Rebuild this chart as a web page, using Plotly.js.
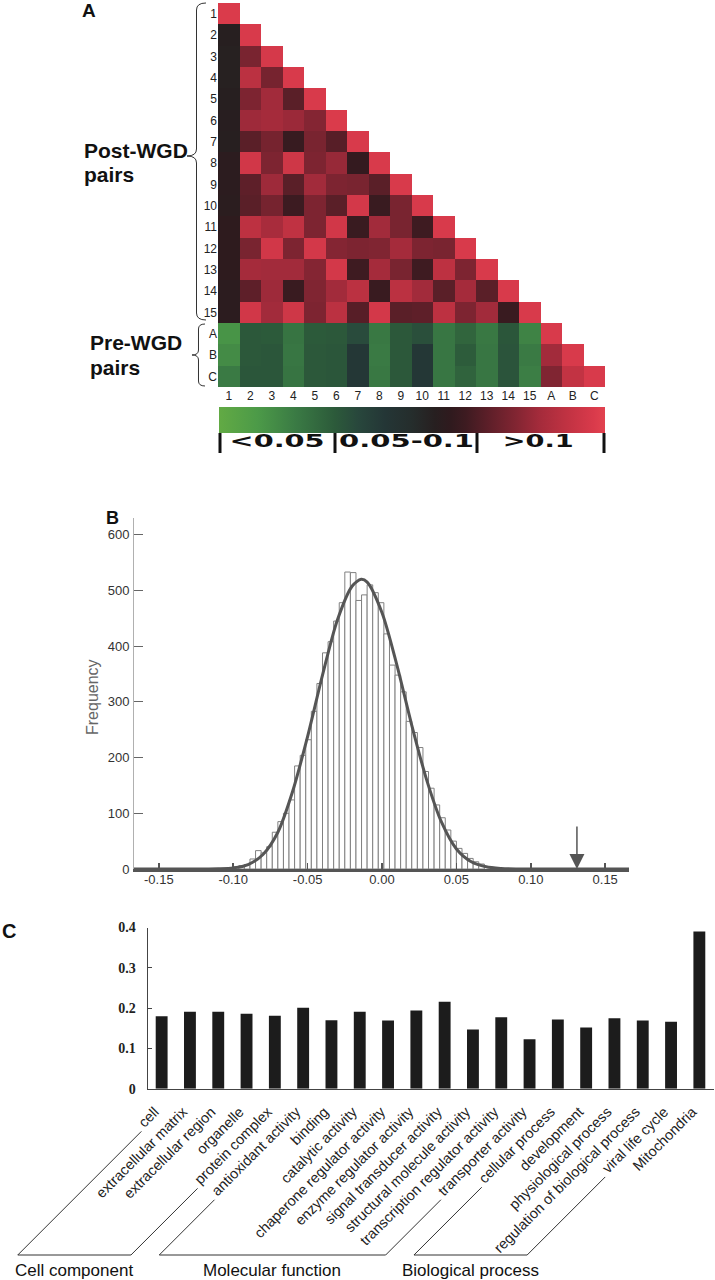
<!DOCTYPE html>
<html>
<head>
<meta charset="utf-8">
<script src="https://cdn.plot.ly/plotly-3.0.1.min.js"></script>
<style>
  html, body { margin: 0; padding: 0; background: #ffffff; }
  #fig { width: 715px; height: 1280px; }
</style>
</head>
<body>
<div id="fig"></div>
<script>
// ---------- Panel A: pairwise similarity of duplicate pairs ----------
const pairLabels = ['1','2','3','4','5','6','7','8','9','10','11','12','13','14','15','A','B','C'];
const heatRows = [
  [0.146],
  [0.084, 0.145],
  [0.083, 0.113, 0.144],
  [0.083, 0.133, 0.112, 0.145],
  [0.084, 0.114, 0.124, 0.104, 0.145],
  [0.085, 0.123, 0.125, 0.122, 0.116, 0.146],
  [0.084, 0.104, 0.112, 0.093, 0.113, 0.103, 0.145],
  [0.088, 0.142, 0.114, 0.141, 0.114, 0.121, 0.092, 0.145],
  [0.088, 0.105, 0.123, 0.104, 0.124, 0.114, 0.113, 0.104, 0.145],
  [0.087, 0.104, 0.112, 0.095, 0.114, 0.104, 0.143, 0.094, 0.113, 0.145],
  [0.089, 0.134, 0.126, 0.135, 0.114, 0.142, 0.094, 0.124, 0.113, 0.096, 0.145],
  [0.089, 0.113, 0.142, 0.114, 0.143, 0.116, 0.114, 0.115, 0.125, 0.114, 0.113, 0.145],
  [0.089, 0.125, 0.124, 0.124, 0.116, 0.143, 0.096, 0.125, 0.113, 0.096, 0.134, 0.114, 0.145],
  [0.088, 0.105, 0.123, 0.094, 0.115, 0.124, 0.133, 0.094, 0.133, 0.124, 0.104, 0.125, 0.104, 0.145],
  [0.088, 0.142, 0.124, 0.141, 0.114, 0.133, 0.103, 0.143, 0.104, 0.105, 0.134, 0.114, 0.124, 0.094, 0.145],
  [0.018, 0.046, 0.045, 0.033, 0.045, 0.046, 0.052, 0.031, 0.046, 0.050, 0.032, 0.040, 0.031, 0.047, 0.026, 0.145],
  [0.022, 0.046, 0.047, 0.032, 0.046, 0.047, 0.064, 0.030, 0.046, 0.064, 0.032, 0.044, 0.032, 0.048, 0.030, 0.124, 0.145],
  [0.030, 0.047, 0.047, 0.033, 0.046, 0.047, 0.064, 0.031, 0.046, 0.064, 0.032, 0.041, 0.032, 0.048, 0.028, 0.115, 0.136, 0.145]
];

// ---------- Panel B: null distribution ----------
const binCenters = [
  -0.09813, -0.09438, -0.09063, -0.08688, -0.08313, -0.07938, -0.07563, -0.07188, -0.06813,
  -0.06438, -0.06063, -0.05688, -0.05313, -0.04938, -0.04563, -0.04188, -0.03813, -0.03438,
  -0.03063, -0.02688, -0.02313, -0.01938, -0.01563, -0.01188, -0.00813, -0.00438, -0.00063,
   0.00313,  0.00688,  0.01063,  0.01438,  0.01813,  0.02188,  0.02563,  0.02938,  0.03313,
   0.03688,  0.04063,  0.04438,  0.04813,  0.05188,  0.05563,  0.05938,  0.06313,  0.06688
];
const binCounts = [
    4,   6,   8,  18,  33,  29,  40,  66,  85,
  100, 124, 185, 204, 232, 283, 333, 388, 408,
  445, 478, 533, 532, 482, 492, 510, 496, 478,
  422, 366, 348, 318, 265, 245, 218, 175, 145,
  115,  92,  70,  50,  37,  28,  19,  13,   9
];
const binWidth = 0.00375;
const fitX = [-0.1667, -0.13, -0.11, -0.10, -0.09, -0.08, -0.07, -0.06, -0.05, -0.04, -0.03, -0.02, -0.014,
              -0.01, 0.00, 0.01, 0.02, 0.03, 0.04, 0.05, 0.06, 0.07, 0.08, 0.09, 0.11, 0.1667];
const fitY = [0, 0, 0.5, 2, 8, 26, 66, 140, 238, 348, 447, 508, 520,
              515, 460, 366, 258, 160, 84, 36, 13, 4, 1, 0, 0, 0];
const observedValue = 0.131;
const histTickVals = [-0.15, -0.10, -0.05, 0.00, 0.05, 0.10, 0.15];
const histTickText = ['-0.15', '-0.10', '-0.05', '0.00', '0.05', '0.10', '0.15'];
const freqTickVals = [0, 100, 200, 300, 400, 500, 600];

// ---------- Panel C: GO categories ----------
const goTerms = [
  'cell', 'extracellular matrix', 'extracellular region', 'organelle', 'protein complex',
  'antioxidant activity', 'binding', 'catalytic activity', 'chaperone regulator activity',
  'enzyme regulator activity', 'signal transducer activity', 'structural molecule activity',
  'transcription regulator activity', 'transporter activity', 'cellular process', 'development',
  'physiological process', 'regulation of biological process', 'viral life cycle', 'Mitochondria'
];
const goFractions = [0.180, 0.191, 0.191, 0.186, 0.181, 0.201, 0.170, 0.191, 0.169, 0.194,
                     0.216, 0.147, 0.177, 0.123, 0.172, 0.152, 0.175, 0.169, 0.166, 0.390];
const goGroups = [
  { name: 'Cell component', first: 0, last: 4 },
  { name: 'Molecular function', first: 5, last: 13 },
  { name: 'Biological process', first: 14, last: 18 }
];
const goTickVals = [0, 0.1, 0.2, 0.3, 0.4];
const goTickText = ['0', '0.1', '0.2', '0.3', '0.4'];

// ---------- helpers: pixel -> paper ----------
const W = 715, H = 1280;
const px = v => v / W;
const py = v => 1 - v / H;

const heatZ = heatRows.map(r => pairLabels.map((_, j) => (j < r.length ? r[j] : null)));

const heatScale = [
  [0.00, '#62aa44'], [0.10, '#4c9a48'], [0.20, '#3a7a44'], [0.30, '#2c5a3a'],
  [0.36, '#28473c'], [0.43, '#243636'], [0.50, '#252d2c'], [0.56, '#271f20'],
  [0.60, '#2f1a1e'], [0.64, '#3e1b21'], [0.70, '#5e1f29'], [0.77, '#822532'],
  [0.83, '#a42b3b'], [0.90, '#c03242'], [0.97, '#d93a4b'], [1.00, '#e2424f']
];

const data = [
  {
    type: 'heatmap', x: pairLabels, y: pairLabels, z: heatZ,
    xaxis: 'x', yaxis: 'y', zmin: 0, zmax: 0.15, colorscale: heatScale,
    hoverinfo: 'skip',
    colorbar: {
      orientation: 'h', x: px(219), xanchor: 'left', y: py(407), yanchor: 'top',
      len: 386, lenmode: 'pixels', thickness: 26, thicknessmode: 'pixels',
      outlinewidth: 0, ticks: '', showticklabels: false, xpad: 0, ypad: 0
    }
  },
  {
    type: 'bar', x: binCenters, y: binCounts, width: binWidth,
    xaxis: 'x2', yaxis: 'y2',
    marker: { color: '#ffffff', line: { color: '#808080', width: 1 } },
    hoverinfo: 'skip'
  },
  {
    type: 'scatter', mode: 'lines', x: fitX, y: fitY, xaxis: 'x2', yaxis: 'y2',
    line: { color: '#555555', width: 3, shape: 'spline', smoothing: 0.8 },
    hoverinfo: 'skip'
  },
  {
    type: 'bar', x: goTerms, y: goFractions, width: 0.42,
    xaxis: 'x3', yaxis: 'y3',
    marker: { color: '#1c1c1c' }, hoverinfo: 'skip'
  }
];

function brace(xr, xt, y1, ym, y2, r) {
  const xm = (xr + xt) / 2;
  const P = (x, y) => px(x).toFixed(5) + ',' + py(y).toFixed(5);
  return 'M' + P(xr, y1) + ' Q' + P(xm, y1) + ' ' + P(xm, y1 + r) +
         ' L' + P(xm, ym - r) + ' Q' + P(xm, ym) + ' ' + P(xt, ym) +
         ' Q' + P(xm, ym) + ' ' + P(xm, ym + r) +
         ' L' + P(xm, y2 - r) + ' Q' + P(xm, y2) + ' ' + P(xr, y2);
}

const sepShapes = [220, 335, 477, 604].map(x => ({
  type: 'line', xref: 'paper', yref: 'paper',
  x0: px(x), x1: px(x), y0: py(433), y1: py(453),
  line: { color: '#111111', width: 3 }
}));

const shapes = [
  { type: 'path', xref: 'paper', yref: 'paper', path: brace(206, 187, 3, 156, 320, 7),
    line: { color: '#333333', width: 1 } },
  { type: 'path', xref: 'paper', yref: 'paper', path: brace(205, 192, 324, 355, 386, 5),
    line: { color: '#333333', width: 1 } }
].concat(sepShapes);

const paperNote = (text, x, y, font, extra) => Object.assign({
  xref: 'paper', yref: 'paper', x: px(x), y: py(y), text: text, showarrow: false,
  xanchor: 'center', yanchor: 'middle', font: font
}, extra || {});

const boldSans = (size) => ({ family: 'Liberation Sans, Arial, sans-serif', size: size, color: '#111111', weight: 'bold' });
const legendFont = { family: 'DejaVu Sans, sans-serif', size: 17, color: '#111111', weight: 'bold' };

const annotations = [
  paperNote('A', 89, 11, boldSans(19)),
  paperNote('B', 113, 518, boldSans(18)),
  paperNote('C', 9, 931, boldSans(20)),
  paperNote('Post-WGD', 82, 150, boldSans(21), { xanchor: 'left' }),
  paperNote('pairs', 82, 174, boldSans(21), { xanchor: 'left' }),
  paperNote('Pre-WGD', 88, 342, boldSans(21), { xanchor: 'left' }),
  paperNote('pairs', 88, 367, boldSans(21), { xanchor: 'left' }),
  paperNote('&lt;0.05', 277, 441, legendFont),
  paperNote('0.05-0.1', 406, 441, legendFont),
  paperNote('&gt;0.1', 538, 441, legendFont),
  paperNote('Frequency', 92, 697,
    { family: 'Liberation Sans Narrow, Liberation Sans, Arial, sans-serif', size: 16, color: '#666666' },
    { textangle: -90 }),
  {
    xref: 'x2', yref: 'y2', x: observedValue, y: 0, text: '', showarrow: true,
    ax: 0, ay: -44, axref: 'pixel', ayref: 'pixel',
    arrowhead: 2, arrowsize: 2, arrowwidth: 1.5, arrowcolor: '#555555', standoff: 0
  }
];

const tickFont = { family: 'Liberation Sans, Arial, sans-serif', size: 12, color: '#222222' };
const histFont = { family: 'Liberation Sans, Arial, sans-serif', size: 13, color: '#333333' };

const layout = {
  width: W, height: H,
  margin: { l: 0, r: 0, t: 0, b: 0, pad: 0 },
  paper_bgcolor: '#ffffff', plot_bgcolor: 'rgba(0,0,0,0)',
  showlegend: false,
  font: { family: 'Liberation Sans, Arial, sans-serif', color: '#222222' },
  xaxis: {
    domain: [px(218), px(605)], anchor: 'y', type: 'category',
    categoryorder: 'array', categoryarray: pairLabels,
    showgrid: false, zeroline: false, showline: false, ticks: '',
    tickfont: tickFont, automargin: false, fixedrange: true
  },
  yaxis: {
    domain: [py(387), py(3)], anchor: 'x', type: 'category',
    categoryorder: 'array', categoryarray: pairLabels, autorange: 'reversed',
    showgrid: false, zeroline: false, showline: false, ticks: '',
    tickfont: tickFont, automargin: false, fixedrange: true
  },
  xaxis2: {
    domain: [px(134), px(629)], anchor: 'y2', range: [-0.1667, 0.166],
    tickmode: 'array', tickvals: histTickVals, ticktext: histTickText,
    ticks: 'inside', ticklen: 6, tickwidth: 1.5, tickcolor: '#555555',
    showline: true, linecolor: '#555555', linewidth: 2.5,
    showgrid: false, zeroline: false, ticklabelstandoff: -3,
    tickfont: histFont, automargin: false, fixedrange: true
  },
  yaxis2: {
    domain: [py(869), py(518)], anchor: 'x2', range: [0, 630],
    tickmode: 'array', tickvals: freqTickVals,
    ticks: 'inside', ticklen: 9, tickwidth: 1.2, tickcolor: '#666666',
    showline: true, linecolor: '#b0b0b0', linewidth: 1,
    showgrid: false, zeroline: false, ticklabelstandoff: 1,
    tickfont: histFont, automargin: false, fixedrange: true
  },
  xaxis3: {
    domain: [px(147.5), px(713.5)], anchor: 'y3', type: 'category', range: [-0.5, 19.5],
    tickangle: -45, ticks: 'inside', ticklen: 3, tickcolor: '#444444', tickson: 'boundaries',
    showline: true, linecolor: '#444444', linewidth: 1,
    showgrid: false, zeroline: false, ticklabelstandoff: 6,
    tickfont: { family: 'Liberation Sans, Arial, sans-serif', size: 14.5, color: '#222222' },
    automargin: false, fixedrange: true
  },
  yaxis3: {
    domain: [py(1088.7), py(927.5)], anchor: 'x3', range: [0, 0.4],
    tickmode: 'array', tickvals: goTickVals, ticktext: goTickText,
    ticks: 'inside', ticklen: 4, tickcolor: '#444444',
    showline: true, linecolor: '#444444', linewidth: 1,
    showgrid: false, zeroline: false, ticklabelstandoff: 8,
    tickfont: { family: 'Liberation Serif, Times New Roman, serif', size: 14, color: '#222222', weight: 'bold' },
    automargin: false, fixedrange: true
  },
  shapes: shapes,
  annotations: annotations
};

const gd = document.getElementById('fig');
const baseY = 1255, groupLabelY = 1270;

// Nudge the slanted GO labels so each one ends just left of its bar.
function nudgeGoLabels() {
  gd.querySelectorAll('.x3tick').forEach(g => g.setAttribute('transform', 'translate(-7,2)'));
}

// Open parallelogram under each GO group, running along the rotated labels.
function groupBrackets() {
  const ticks = Array.from(gd.querySelectorAll('.xaxislayer-above .x3tick text'));
  const origin = gd.getBoundingClientRect();
  const startOf = name => {
    const t = ticks.find(el => el.textContent === name);
    if (!t) return null;
    try {
      const p = t.getStartPositionOfChar(0);
      const s = new DOMPoint(p.x, p.y).matrixTransform(t.getScreenCTM());
      return [s.x - origin.left, s.y - origin.top];
    } catch (e) {
      const r = t.getBoundingClientRect();
      return [r.left - origin.left + 8, r.bottom - origin.top - 2];
    }
  };
  const P = (q) => px(q[0]).toFixed(5) + ',' + py(q[1]).toFixed(5);
  const extraShapes = [], extraNotes = [];
  goGroups.forEach(g => {
    const a = startOf(goTerms[g.first]);
    const b = startOf(goTerms[g.last]);
    if (!a || !b) return;
    const a0 = [a[0] - 3, a[1] + 3], b0 = [b[0] - 3, b[1] + 3];
    const a1 = [a0[0] - (baseY - a0[1]), baseY];
    const b1 = [b0[0] - (baseY - b0[1]), baseY];
    extraShapes.push({
      type: 'path', xref: 'paper', yref: 'paper',
      path: 'M' + P(a0) + ' L' + P(a1) + ' L' + P(b1) + ' L' + P(b0),
      line: { color: '#333333', width: 1 }
    });
    extraNotes.push(paperNote(g.name, (a1[0] + b1[0]) / 2, groupLabelY,
      { family: 'Liberation Sans, Arial, sans-serif', size: 17, color: '#111111' }));
  });
  return Plotly.relayout(gd, {
    shapes: shapes.concat(extraShapes),
    annotations: annotations.concat(extraNotes)
  });
}

// Widen the colour-key labels to span their ranges.
function stretchKeyLabels() {
  const widths = { '<0.05': 95, '0.05-0.1': 135, '>0.1': 71 };
  gd.querySelectorAll('.annotation-text').forEach(t => {
    const w = widths[t.textContent];
    if (w) {
      t.setAttribute('textLength', w);
      t.setAttribute('lengthAdjust', 'spacingAndGlyphs');
    }
  });
}

Plotly.newPlot(gd, data, layout, { staticPlot: true, displayModeBar: false })
  .then(() => { nudgeGoLabels(); return groupBrackets(); })
  .then(() => { nudgeGoLabels(); stretchKeyLabels(); });
</script>
</body>
</html>
